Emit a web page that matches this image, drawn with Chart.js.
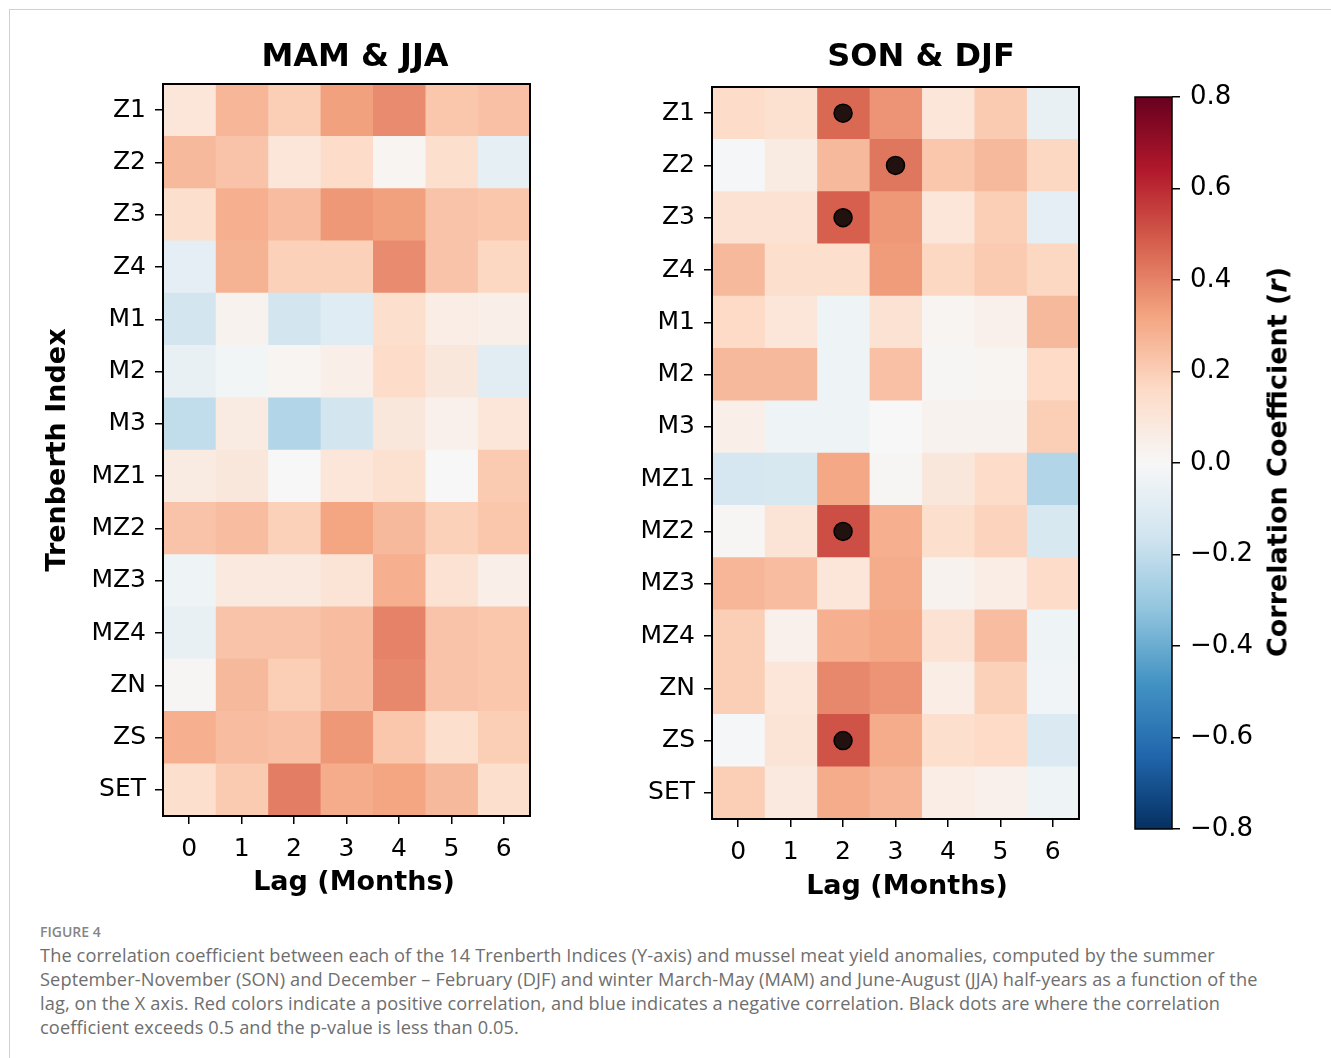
<!DOCTYPE html>
<html>
<head>
<meta charset="utf-8">
<title>Figure 4</title>
<script src="https://cdn.jsdelivr.net/npm/chart.js@4.4.1/dist/chart.umd.min.js"></script>
<style>
    body {
        margin: 0;
        width: 1331px;
        height: 1058px;
        overflow: hidden;
        position: relative;
        background: #fff;
        font-family: 'DejaVu Sans', sans-serif;
    }
    .page-frame {
        position: absolute;
        left: 9px;
        top: 9px;
        width: 1360px;
        height: 1080px;
        border: 1px solid #d0d0d0;
    }
    canvas {
        position: absolute;
        top: 0;
    }
    .panel-title {
        position: absolute;
        transform: translate(-50%, -50%);
        font: bold 32px 'DejaVu Sans';
        color: #000;
        white-space: nowrap;
    }
    .axis-title {
        position: absolute;
        transform: translate(-50%, -50%);
        font: bold 27px 'DejaVu Sans';
        color: #000;
        white-space: nowrap;
    }
    .cbar-label {
        position: absolute;
        left: 1277px;
        top: 462px;
        transform: translate(-50%, -50%) rotate(-90deg);
        font: bold 27px 'DejaVu Sans';
        color: #000;
        white-space: nowrap;
    }
    .fig-num {
        position: absolute;
        left: 40px;
        top: 924px;
        font: 600 14px/16px 'Open Sans';
        color: #858585;
    }
    .caption {
        position: absolute;
        left: 40px;
        top: 943px;
        font: 18.2px/24px 'Open Sans';
        letter-spacing: 0.12px;
        color: #6e6e6e;
        white-space: nowrap;
    }
</style>
</head>
<body>
<div class="page-frame"></div>

<canvas id="mamChart" width="560" height="896" style="left:0px"></canvas>
<canvas id="sonChart" width="560" height="900" style="left:560px"></canvas>
<canvas id="cbarChart" width="211" height="900" style="left:1120px"></canvas>

<div class="panel-title" style="left:355px; top:55px">MAM &amp; JJA</div>
<div class="panel-title" style="left:921px; top:55px">SON &amp; DJF</div>
<div class="axis-title" style="left:354px; top:880px">Lag (Months)</div>
<div class="axis-title" style="left:907px; top:884px">Lag (Months)</div>
<div class="cbar-label">Correlation Coefficient (<i>r</i>)</div>

<div class="fig-num">FIGURE 4</div>
<div class="caption">
The correlation coefficient between each of the 14 Trenberth Indices (Y-axis) and mussel meat yield anomalies, computed by the summer<br>
September-November (SON) and December – February (DJF) and winter March-May (MAM) and June-August (JJA) half-years as a function of the<br>
lag, on the X axis. Red colors indicate a positive correlation, and blue indicates a negative correlation. Black dots are where the correlation<br>
coefficient exceeds 0.5 and the p-value is less than 0.05.
</div>

<script>
// rows (top to bottom) and columns
const indices = ["Z1", "Z2", "Z3", "Z4", "M1", "M2", "M3", "MZ1", "MZ2", "MZ3", "MZ4", "ZN", "ZS", "SET"];
const lags = [0, 1, 2, 3, 4, 5, 6];

// correlation r, one row per index, lag 0..6
const mamJja = [
    [0.10, 0.27, 0.20, 0.33, 0.38, 0.22, 0.24],   // Z1
    [0.26, 0.23, 0.10, 0.15, 0.02, 0.14, -0.07],  // Z2
    [0.14, 0.29, 0.25, 0.35, 0.33, 0.23, 0.22],   // Z3
    [-0.08, 0.28, 0.19, 0.19, 0.38, 0.23, 0.17],  // Z4
    [-0.15, 0.03, -0.15, -0.10, 0.14, 0.06, 0.05], // M1
    [-0.06, -0.02, 0.02, 0.05, 0.15, 0.09, -0.09], // M2
    [-0.20, 0.07, -0.24, -0.15, 0.09, 0.04, 0.10], // M3
    [0.07, 0.09, 0.00, 0.10, 0.13, 0.00, 0.21],   // MZ1
    [0.23, 0.25, 0.19, 0.32, 0.26, 0.19, 0.22],   // MZ2
    [-0.04, 0.08, 0.08, 0.11, 0.29, 0.12, 0.05],  // MZ3
    [-0.06, 0.23, 0.23, 0.25, 0.40, 0.23, 0.22],  // MZ4
    [0.01, 0.26, 0.20, 0.25, 0.39, 0.23, 0.22],   // ZN
    [0.29, 0.25, 0.24, 0.35, 0.22, 0.14, 0.20],   // ZS
    [0.14, 0.21, 0.41, 0.30, 0.32, 0.26, 0.14]    // SET
];

const sonDjf = [
    [0.15, 0.13, 0.46, 0.36, 0.10, 0.21, -0.06],  // Z1
    [-0.01, 0.07, 0.26, 0.43, 0.22, 0.26, 0.17],  // Z2
    [0.12, 0.12, 0.48, 0.35, 0.10, 0.20, -0.08],  // Z3
    [0.26, 0.14, 0.14, 0.34, 0.17, 0.21, 0.17],   // Z4
    [0.16, 0.10, -0.04, 0.12, 0.02, 0.04, 0.26],  // M1
    [0.26, 0.26, -0.04, 0.24, 0.01, 0.02, 0.16],  // M2
    [0.05, -0.04, -0.04, 0.00, 0.03, 0.03, 0.20], // M3
    [-0.14, -0.13, 0.31, 0.01, 0.09, 0.15, -0.24], // MZ1
    [0.01, 0.11, 0.52, 0.29, 0.14, 0.18, -0.13],  // MZ2
    [0.27, 0.25, 0.10, 0.30, 0.03, 0.06, 0.15],   // MZ3
    [0.20, 0.04, 0.29, 0.31, 0.12, 0.25, -0.04],  // MZ4
    [0.20, 0.10, 0.39, 0.36, 0.06, 0.19, -0.03],  // ZN
    [-0.01, 0.11, 0.51, 0.30, 0.14, 0.16, -0.12], // ZS
    [0.20, 0.08, 0.30, 0.27, 0.06, 0.04, -0.04]   // SET
];

// significant cells (black dots): [index, lag]
const mamJjaDots = [];
const sonDjfDots = [["Z1", 2], ["Z2", 3], ["Z3", 2], ["MZ2", 2], ["ZS", 2]];

// colour bar range and ticks
const cbarMin = -0.8;
const cbarMax = 0.8;
const cbarStep = 0.2;

// RdBu_r
const rdbuStops = ["#053061", "#2166ac", "#4393c3", "#92c5de", "#d1e5f0", "#f7f7f7",
    "#fddbc7", "#f4a582", "#d6604d", "#b2182b", "#67001f"];

function hexToRgb(h) {
    return [parseInt(h.slice(1, 3), 16), parseInt(h.slice(3, 5), 16), parseInt(h.slice(5, 7), 16)];
}

function rdbu(v) {
    let t = (v - cbarMin) / (cbarMax - cbarMin);
    t = Math.max(0, Math.min(1, t)) * (rdbuStops.length - 1);
    const i = Math.min(Math.floor(t), rdbuStops.length - 2);
    const f = t - i;
    const a = hexToRgb(rdbuStops[i]);
    const b = hexToRgb(rdbuStops[i + 1]);
    const c = a.map((x, k) => Math.round(x + (b[k] - x) * f));
    return `rgb(${c[0]},${c[1]},${c[2]})`;
}

const tickFont = { family: "DejaVu Sans", size: 25 };
const labelFont = { family: "DejaVu Sans", size: 27, weight: "bold" };

// black box round the plot area
const framePlugin = {
    id: "frame",
    afterDatasetsDraw(chart, args, opts) {
        const a = chart.chartArea;
        const ctx = chart.ctx;
        ctx.save();
        ctx.strokeStyle = "#000";
        ctx.lineWidth = opts.width || 2;
        ctx.strokeRect(a.left, a.top, a.right - a.left, a.bottom - a.top);
        ctx.restore();
    }
};

// dots on significant cells
const dotsPlugin = {
    id: "dots",
    afterDatasetsDraw(chart, args, opts) {
        const cells = opts.cells || [];
        const ctx = chart.ctx;
        ctx.save();
        cells.forEach(([name, lag]) => {
            const x = chart.scales.x.getPixelForValue(lag + 0.5);
            const y = chart.scales.y.getPixelForValue(indices.indexOf(name));
            ctx.beginPath();
            ctx.arc(x, y, 9, 0, Math.PI * 2);
            ctx.fillStyle = "#22120f";
            ctx.fill();
            ctx.lineWidth = 1.5;
            ctx.strokeStyle = "#000";
            ctx.stroke();
        });
        ctx.restore();
    }
};

function makeHeatmap(id, values, dots, showYTitle, yWidth, padding) {
    const ctx = document.getElementById(id);

    // one stacked dataset per lag column
    const datasets = lags.map((lag, j) => ({
        label: "Lag " + lag,
        data: indices.map(() => 1),
        backgroundColor: indices.map((_, i) => rdbu(values[i][j])),
        borderWidth: 0,
        barPercentage: 1,
        categoryPercentage: 1
    }));

    return new Chart(ctx, {
        type: "bar",
        data: { labels: indices, datasets: datasets },
        options: {
            indexAxis: "y",
            responsive: false,
            animation: false,
            layout: { padding: padding },
            plugins: {
                legend: { display: false },
                tooltip: { enabled: false },
                frame: { width: 2 },
                dots: { cells: dots }
            },
            scales: {
                x: {
                    type: "linear",
                    stacked: true,
                    min: 0,
                    max: lags.length,
                    afterBuildTicks: (scale) => {
                        scale.ticks = lags.map((l) => ({ value: l + 0.5 }));
                    },
                    ticks: {
                        autoSkip: false,
                        maxRotation: 0,
                        color: "#000",
                        font: tickFont,
                        padding: 10,
                        callback: (v) => String(Math.round(v - 0.5))
                    },
                    grid: { drawOnChartArea: false, tickLength: 8, color: "#000", lineWidth: 1.5 },
                    border: { display: false },
                    afterFit: (scale) => { scale.height = padding.xHeight; }
                },
                y: {
                    stacked: true,
                    ticks: { autoSkip: false, color: "#000", font: tickFont, padding: 9 },
                    grid: { offset: false, drawOnChartArea: false, tickLength: 8, color: "#000", lineWidth: 1.5 },
                    border: { display: false },
                    title: { display: showYTitle, text: "Trenberth Index", font: labelFont, color: "#000", padding: { top: 1, bottom: 0 } },
                    afterFit: (scale) => { scale.width = yWidth; }
                }
            }
        },
        plugins: [framePlugin, dotsPlugin]
    });
}

const mamChart = makeHeatmap("mamChart", mamJja, mamJjaDots, true, 122,
    { left: 41, top: 84, right: 30, bottom: 0, xHeight: 80 });
const sonChart = makeHeatmap("sonChart", sonDjf, sonDjfDots, false, 80,
    { left: 72, top: 87, right: 41, bottom: 0, xHeight: 81 });

// colour bar: one floating bar filled with the colour map
const cbarChart = new Chart(document.getElementById("cbarChart"), {
    type: "bar",
    data: {
        labels: [""],
        datasets: [{
            data: [[cbarMin, cbarMax]],
            backgroundColor: (context) => {
                const area = context.chart.chartArea;
                if (!area) return null;
                const g = context.chart.ctx.createLinearGradient(0, area.bottom, 0, area.top);
                rdbuStops.forEach((c, i) => g.addColorStop(i / (rdbuStops.length - 1), c));
                return g;
            },
            borderWidth: 0,
            barPercentage: 1,
            categoryPercentage: 1
        }]
    },
    options: {
        responsive: false,
        animation: false,
        layout: { padding: { left: 15, top: 97, bottom: 71, right: 0 } },
        plugins: {
            legend: { display: false },
            tooltip: { enabled: false },
            frame: { width: 1.5 }
        },
        scales: {
            x: { display: false },
            y: {
                position: "right",
                min: cbarMin,
                max: cbarMax,
                ticks: {
                    stepSize: cbarStep,
                    color: "#000",
                    font: { family: "DejaVu Sans", size: 26 },
                    padding: 10,
                    callback: (v) => (v < -1e-9 ? "\u2212" : "") + Math.abs(v).toFixed(1)
                },
                grid: { drawOnChartArea: false, tickLength: 8, color: "#000", lineWidth: 1.5 },
                border: { display: false },
                afterFit: (scale) => { scale.width = 159; }
            }
        }
    },
    plugins: [framePlugin]
});
</script>
</body>
</html>
